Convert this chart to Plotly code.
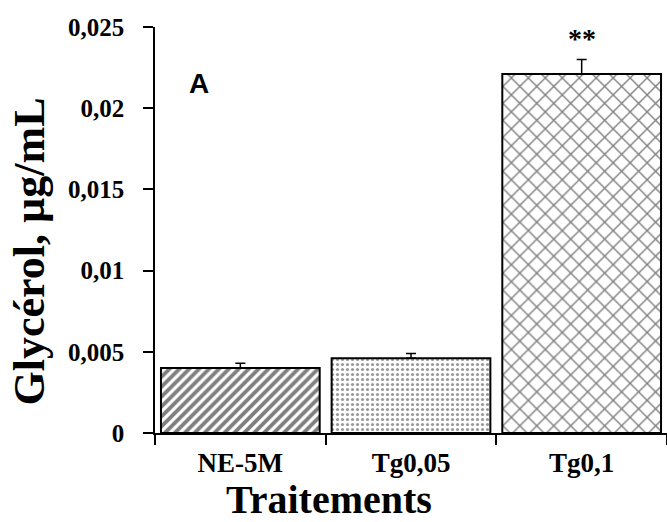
import plotly.graph_objects as go

categories = ["NE-5M", "Tg0,05", "Tg0,1"]
values = [0.0040, 0.0046, 0.0221]
errors = [0.0003, 0.0003, 0.0009]
ytick_vals = [0, 0.005, 0.01, 0.015, 0.02, 0.025]
ytick_text = ["0", "0,005", "0,01", "0,015", "0,02", "0,025"]
pattern_shapes = ["/", ".", "x"]
pattern_sizes = [7, 5, 12]
pattern_solidity = [0.55, 0.32, 0.22]
pattern_fg = ["#000000", "#333333", "#000000"]

SERIF = "Liberation Serif, Times New Roman, serif"

fig = go.Figure()
for i, c in enumerate(categories):
    fig.add_trace(go.Bar(
        x=[c], y=[values[i]], width=0.93,
        marker=dict(color="white", line=dict(color="black", width=2),
                    pattern=dict(shape=pattern_shapes[i], size=pattern_sizes[i],
                                 solidity=pattern_solidity[i], fgcolor=pattern_fg[i],
                                 bgcolor="white", fillmode="overlay")),
        error_y=dict(type="data", array=[errors[i]], arrayminus=[0], symmetric=False,
                     color="black", thickness=1.5, width=5),
        showlegend=False,
    ))

fig.update_layout(
    width=667, height=522,
    margin=dict(l=155, r=0, t=27, b=89),
    plot_bgcolor="white", paper_bgcolor="white",
    xaxis=dict(type="category", tickson="boundaries", ticks="outside", ticklen=10,
               tickcolor="black", tickwidth=1.5, showline=True, linecolor="black",
               linewidth=1.5, showgrid=False, ticklabelstandoff=5,
               tickfont=dict(family=SERIF, size=27, color="black", weight="bold"),
               range=[-0.5, 2.5]),
    yaxis=dict(range=[0, 0.025], tickvals=ytick_vals, ticktext=ytick_text,
               ticks="outside", ticklen=10, tickcolor="black", tickwidth=1.5,
               showline=True, linecolor="black", linewidth=1.5, showgrid=False,
               zeroline=False, ticklabelstandoff=14,
               tickfont=dict(family=SERIF, size=25, color="black", weight="bold")),
    annotations=[
        dict(text="<b>Glycérol, µg/mL</b>", xref="paper", yref="paper", x=-0.245, y=0.446,
             xanchor="center", yanchor="middle", textangle=-90, showarrow=False,
             font=dict(family=SERIF, size=44, color="black")),
        dict(text="<b>Traitements</b>", xref="paper", yref="paper", x=0.34, y=-0.163,
             xanchor="center", yanchor="middle", showarrow=False,
             font=dict(family=SERIF, size=40, color="black")),
        dict(text="<b>A</b>", xref="x", yref="y", x=-0.243, y=0.0215, showarrow=False,
             font=dict(family="Liberation Sans, Arial, sans-serif", size=28, color="black")),
        dict(text="<b>**</b>", xref="x", yref="y", x=2, y=0.0243, showarrow=False,
             font=dict(family=SERIF, size=28, color="black")),
    ],
)

fig.write_html("out.html")
